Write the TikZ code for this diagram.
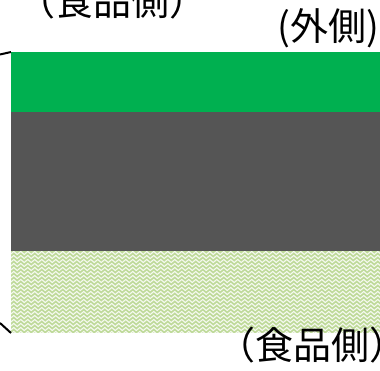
\documentclass[tikz,border=0pt]{standalone}
\usepackage{fontspec}
\newfontfamily\jpfont{Noto Sans CJK JP}
\usetikzlibrary{decorations.pathmorphing}
\definecolor{bandgreen}{HTML}{00B050}
\definecolor{banddark}{HTML}{555555}
\definecolor{bandlight}{HTML}{BFDA9A}
\tikzset{
  lbl/.style={inner sep=0pt, font=\jpfont\fontsize{38}{42}\selectfont, text=black},
  bracestroke/.style={black, line width=2pt},
  wavy/.style={white, opacity=0.85, line width=1.1pt, decorate, decoration={zigzag, segment length=7pt, amplitude=1.5pt}}
}
\begin{document}
\begin{tikzpicture}[x=1pt, y=-1pt]
\useasboundingbox (0,0) rectangle (380,370);
% layers
\fill[bandgreen] (11,52) rectangle (380,112);
\fill[banddark] (11,112) rectangle (380,251);
\fill[bandlight] (11,251) rectangle (380,333);
\begin{scope}
  \clip (11,251) rectangle (380,333);
  \foreach \yy in {253,257,...,333} {
    \draw[wavy] (5,\yy) -- (386,\yy);
  }
\end{scope}
% brace fragments
\coordinate (bt0) at (0,54.5);
\coordinate (bt1) at (11,52);
\coordinate (bb0) at (0,323);
\coordinate (bb1) at (11,333);
\draw[bracestroke] (bt0) -- (bt1);
\draw[bracestroke] (bb0) -- (bb1);
% labels
\node[lbl, anchor=base west] (top) at (17,15.5) {（食品側）};
\node[lbl, anchor=base west] (outer) at (277,40.5) {(外側)};
\node[lbl, anchor=base west] (food) at (217,359) {（食品側）};
\end{tikzpicture}
\end{document}
